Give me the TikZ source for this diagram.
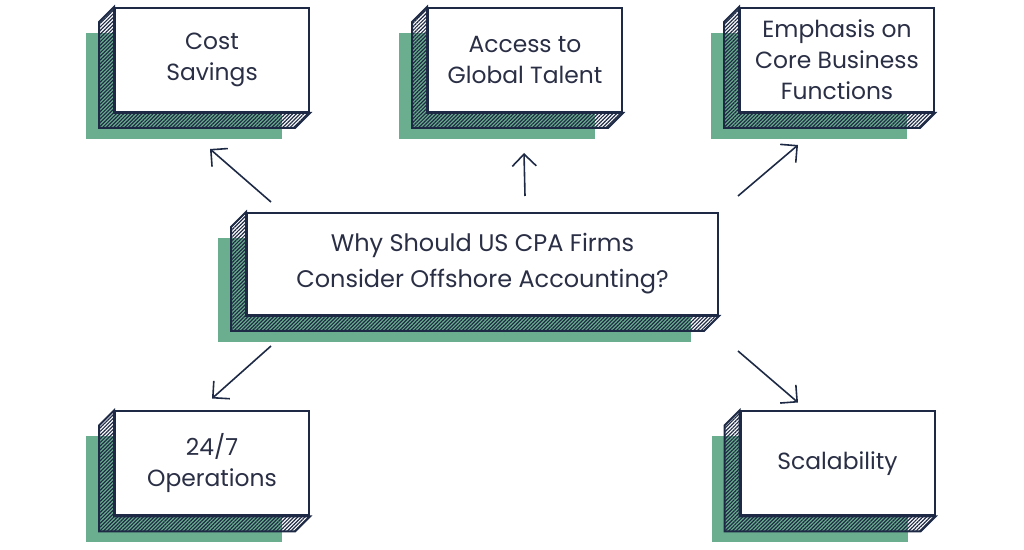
\documentclass[tikz,border=0pt]{standalone}
\usepackage{fontspec}
\setmainfont{Poppins}
\usetikzlibrary{arrows.meta,backgrounds,patterns.meta}
\definecolor{navy}{HTML}{1E2A45}
\definecolor{sage}{HTML}{6AAE8F}
\definecolor{ink}{HTML}{2A2F45}

\begin{document}
\begin{tikzpicture}[x=0.5pt, y=-0.5pt, >={Straight Barb[length=6pt,width=12pt]},
    card/.style={draw=navy, line width=1pt, fill=white, minimum width=97pt, minimum height=52pt,
        inner sep=0pt, align=center, text=ink, font=\fontsize{11.7}{15.5}\selectfont},
    depth/.style={draw=navy, line width=1pt, pattern={Lines[angle=45,distance=1.3pt,line width=0.6pt]}, pattern color=navy},
    link/.style={->, navy, line width=0.8pt}]
    \useasboundingbox (0,0) rectangle (1024,550);

    \node[card, minimum width=235.5pt, minimum height=51pt, font=\fontsize{12}{18}\selectfont] (main) at (482.5,264)
        {Why Should US CPA Firms\\Consider Offshore Accounting?};

    \node[card] (cost) at (212,60) {Cost\\Savings};
    \node[card] (talent) at (525,60) {Access to\\Global Talent};
    \node[card] (core) at (837,60) {Emphasis on\\Core Business\\Functions};
    \node[card] (ops) at (212,463.5) {24/7\\Operations};
    \node[card] (scale) at (837.5,463.5) {Scalability};

    \begin{scope}[on background layer]
        \foreach \n in {main, cost, talent, core, ops, scale} {
            \fill[sage] ([shift={(-28,26)}]\n.north west) rectangle ([shift={(-28,26)}]\n.south east);
            \draw[depth] (\n.north west) -- ++(-15,15) -- ([shift={(-15,15)}]\n.south west)
                -- ([shift={(-15,15)}]\n.south east) -- (\n.south east) -- (\n.south west) -- cycle;
        }
    \end{scope}

    \draw[link] ([shift={(25,-10)}]main.north west) -- ([shift={(-2,36)}]cost.south);
    \draw[link] ([shift={(42.5,-16)}]main.north) -- ([shift={(-1,40)}]talent.south);
    \draw[link] ([shift={(19,-16)}]main.north east) -- ([shift={(-39,32)}]core.south);
    \draw[link] ([shift={(25,30)}]main.south west) -- ([shift={(0,-12)}]ops.north);
    \draw[link] ([shift={(19,35)}]main.south east) -- ([shift={(-39.5,-8)}]scale.north);

\end{tikzpicture}
\end{document}
